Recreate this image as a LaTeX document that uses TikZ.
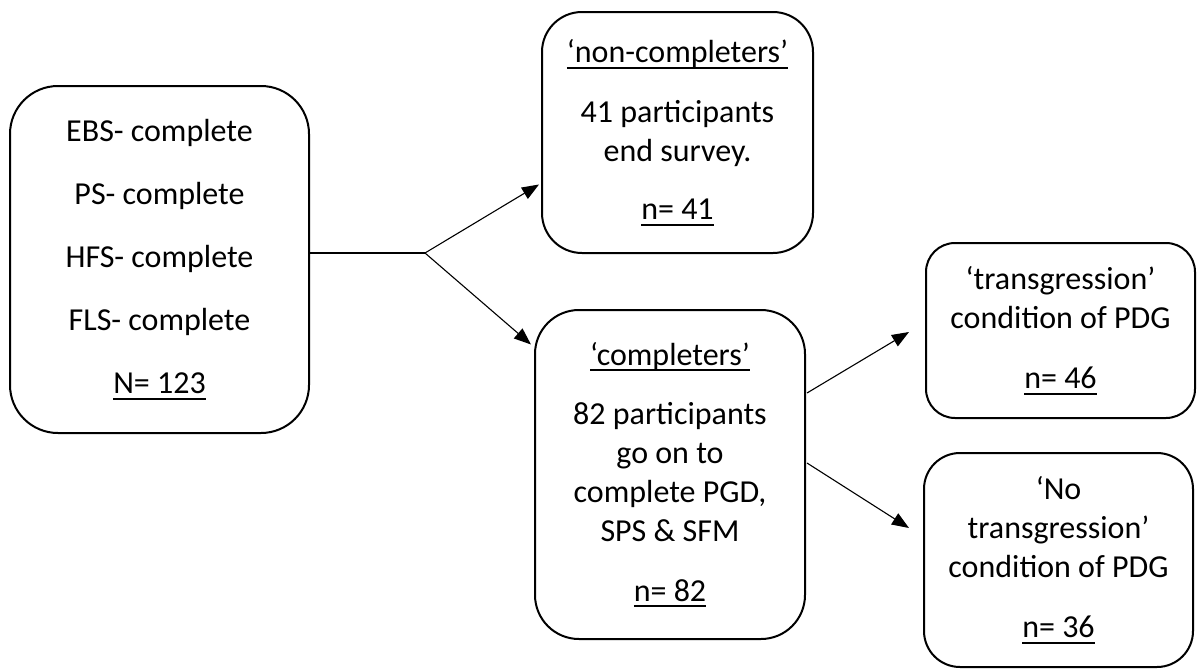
\documentclass[tikz,border=0pt]{standalone}
\usepackage{fontspec}
\setmainfont{Carlito}
\usetikzlibrary{arrows.meta,calc}
\newsavebox\ulboxx
\newcommand\ulx[1]{\sbox\ulboxx{#1}\rlap{\rule[-6pt]{\wd\ulboxx}{1.8pt}}\usebox\ulboxx}
\begin{document}
\begin{tikzpicture}[x=1pt,y=-1pt,
  flowbox/.style={draw, line width=2pt, inner sep=0pt, align=center,
    font=\fontsize{32}{39}\selectfont},
  conn/.style={line width=1.1pt, -{Triangle[length=17pt,width=13pt]}},
  plainline/.style={line width=1.1pt}]
\useasboundingbox (0,0) rectangle (1200,670);
\node[flowbox, rounded corners=48pt, minimum width=299pt, minimum height=347pt] (L) at (159.5,259.5)
  {EBS- complete\\[24pt]PS- complete\\[24pt]HFS- complete\\[24pt]FLS- complete\\[24pt]\ulx{N= 123}};
\node[flowbox, rounded corners=40pt, minimum width=271pt, minimum height=241pt] (T) at (677.5,132.5)
  {\ulx{‘non-completers’}\\[21pt]41 participants\\end survey.\\[19pt]\ulx{n= 41}};
\node[flowbox, rounded corners=44pt, minimum width=270pt, minimum height=329pt] (M) at (670,474.5)
  {\ulx{‘completers’}\\[20pt]82 participants\\go on to\\complete PGD,\\SPS \& SFM\\[21pt]\ulx{n= 82}};
\node[flowbox, rounded corners=29pt, minimum width=269pt, minimum height=175pt] (TR) at (1060.5,330.5)
  {‘transgression’\\condition of PDG\\[21pt]\ulx{n= 46}};
\node[flowbox, rounded corners=36pt, minimum width=269pt, minimum height=214pt] (NT) at (1058.5,560)
  {‘No\\transgression’\\condition of PDG\\[21pt]\ulx{n= 36}};
\coordinate (br) at (425,253);
\draw[plainline] (L.east |- br) -- (br);
\draw[conn] (br) -- ($(T.west)+(-2,52)$);
\draw[conn] (br) -- ($(M.west)+(-3,-130)$);
\draw[conn] ($(M.east)+(1,-81.5)$) -- ($(TR.west)+(-16,1.5)$);
\draw[conn] ($(M.east)+(1,-11.5)$) -- ($(NT.west)+(-14,-32)$);
\end{tikzpicture}
\end{document}
